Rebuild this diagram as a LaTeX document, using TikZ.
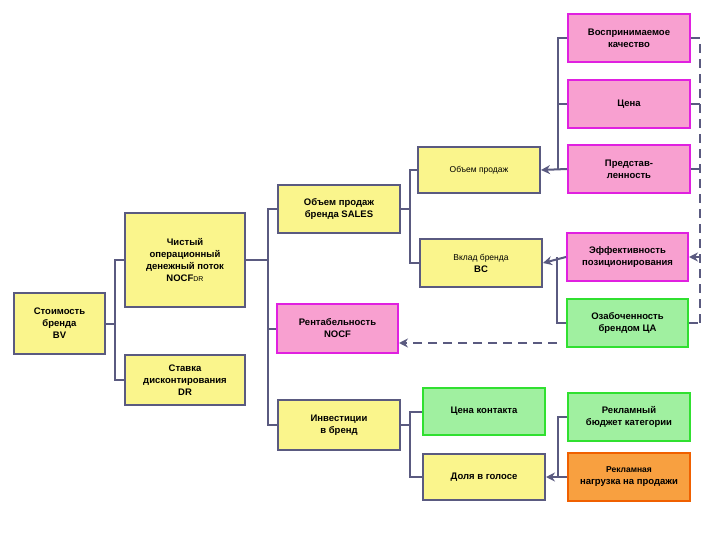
\documentclass[tikz,border=0pt]{standalone}
\usepackage{fontspec}
\setmainfont{Liberation Sans}
\usetikzlibrary{arrows.meta}
\definecolor{ln}{HTML}{5A5A80}
\definecolor{yf}{HTML}{FAF58C}
\definecolor{pf}{HTML}{F8A0D0}
\definecolor{pb}{HTML}{E020E0}
\definecolor{gf}{HTML}{A0F0A0}
\definecolor{gb}{HTML}{30E030}
\definecolor{of}{HTML}{F8A040}
\definecolor{ob}{HTML}{F06000}
\begin{document}
\begin{tikzpicture}[x=1pt,y=-1pt,
  bx/.style={draw,line width=2pt,inner sep=0pt,align=center,font=\fontsize{9.5}{12}\selectfont\bfseries},
  Y/.style={bx,fill=yf,draw=ln},
  P/.style={bx,fill=pf,draw=pb},
  G/.style={bx,fill=gf,draw=gb},
  O/.style={bx,fill=of,draw=ob},
  ln/.style={draw=ln,line width=2pt},
  ar/.style={ln,-{Stealth[length=9pt,width=9pt]}},
  da/.style={ln,dash pattern=on 9pt off 6pt}]
\useasboundingbox (0,0) rectangle (720,540);
\newcommand\bxat[5]{\node[#1,minimum width=#4-#2,minimum height=#5-#3] (#1x) at ({(#2+#4)/2},{(#3+#5)/2}) {};}
\def\B#1#2#3#4#5#6#7{\node[#2,minimum width={#5-#3},minimum height={#6-#4}] (#1) at ({(#3+#5)/2},{(#4+#6)/2}) {#7};}
\B{bv}{Y}{14}{293}{105}{354}{Стоимость\\бренда\\BV}
\B{nocf}{Y}{125}{213}{245}{307}{Чистый\\операционный\\денежный поток\\NOCF{\fontsize{7}{8}\selectfont\mdseries DR}}
\B{dr}{Y}{125}{355}{245}{405}{Ставка\\дисконтирования\\DR}
\B{sales}{Y}{278}{185}{400}{233}{Объем продаж\\бренда  SALES}
\B{rent}{P}{277}{304}{398}{353}{Рентабельность\\NOCF}
\B{inv}{Y}{278}{400}{400}{450}{Инвестиции\\в бренд}
\B{ob}{Y}{418}{147}{540}{193}{\mdseries\fontsize{8.5}{10}\selectfont Объем продаж}
\B{vk}{Y}{420}{239}{542}{287}{\mdseries\fontsize{8.5}{10}\selectfont Вклад бренда\\BC}
\B{ck}{G}{423}{388}{545}{435}{Цена контакта}
\B{dg}{Y}{423}{454}{545}{500}{Доля в голосе}
\B{vq}{P}{568}{14}{690}{62}{Воспринимаемое\\качество}
\B{cn}{P}{568}{80}{690}{128}{Цена}
\B{pr}{P}{568}{145}{690}{193}{Представ-\\ленность}
\B{ef}{P}{567}{233}{688}{281}{Эффективность\\позиционирования}
\B{oz}{G}{567}{299}{688}{347}{Озабоченность\\брендом ЦА}
\B{rb}{G}{568}{393}{690}{441}{Рекламный\\бюджет категории}
\B{rn}{O}{568}{453}{690}{501}{\fontsize{8.5}{10}\selectfont Рекламная\\нагрузка на продажи}
% trees
\draw[ln] (bv.east) -- (115,323.5);
\draw[ln] (nocf.west) -| (115,323.5) |- (dr.west);
\draw[ln] (nocf.east) -- (268,260);
\draw[ln] (sales.west) -| (268,260) |- (inv.west);
\draw[ln] (268,328.5) -- (rent.west);
\draw[ln] (sales.east) -- (410,209);
\draw[ln] (ob.west) -| (410,209) |- (vk.west);
\draw[ln] (inv.east) -- (410,425);
\draw[ln] (ck.west) -| (410,425) |- (dg.west);
\draw[ln] (vq.west) -| (558,169);
\draw[ln] (cn.west) -- (558,104);
\draw[ar] (pr.west) -- (ob.east);
\draw[ar] (ef.west) -- (vk.east);
\draw[ln] (557,257) |- (oz.west);
\draw[ar] (rb.west) -| (558,477) -- (dg.east);
\draw[ln] (rn.west) -- (558,477);
% dashed
\draw[da] (vq.east) -| (700,323);
\draw[da] (cn.east) -- (700,104);
\draw[da] (pr.east) -- (700,169);
\draw[da] (oz.east) -- (700,323);
\draw[ar,dash pattern=on 9pt off 6pt] (700,257) -- (ef.east);
\draw[ar,dash pattern=on 9pt off 6pt] (557,343) -- (rent.east|-0,343);
\end{tikzpicture}
\end{document}
